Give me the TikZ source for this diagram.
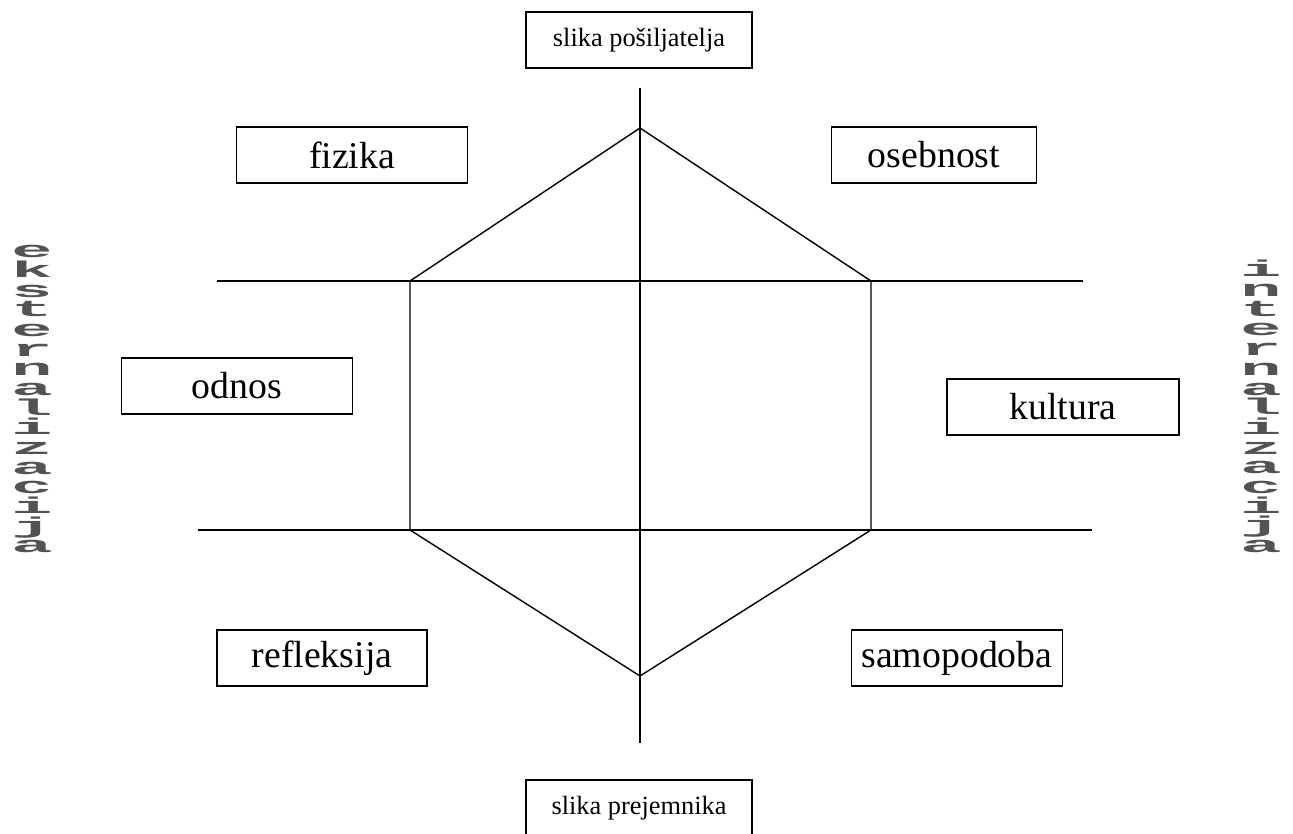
\documentclass[tikz,border=0pt]{standalone}
\usepackage{fontspec}
\setmainfont{Liberation Serif}
\newfontfamily\slabfont{Liberation Mono}
\usetikzlibrary{positioning}

\begin{document}
\lineskiplimit=-100pt
\begin{tikzpicture}[x=0.2mm,y=-0.2mm,
  box/.style={draw, line width=0.9pt, minimum height=11.2mm, inner sep=0pt, font=\fontsize{21.5}{26}\selectfont},
  smallbox/.style={box, minimum width=45.2mm, font=\fontsize{15}{18}\selectfont},
  axis/.style={line width=0.8pt},
  side/.style={anchor=north, inner sep=0pt, align=center, xscale=3, text=gray!65!black,
    font=\slabfont\bfseries\fontsize{13}{11.2}\selectfont}]
  \useasboundingbox (0,0) rectangle (1293,834);

  % hexagon corners
  \coordinate (top) at (640,128);
  \coordinate (ul) at (410,281);
  \coordinate (ur) at (871,281);
  \coordinate (ll) at (410,530);
  \coordinate (lr) at (871,530);
  \coordinate (bot) at (640,676);

  % axis ends
  \coordinate (vt) at (640,88);
  \coordinate (vb) at (640,743);
  \coordinate (hul) at (217,281);
  \coordinate (hur) at (1083,281);
  \coordinate (hll) at (198,530);
  \coordinate (hlr) at (1092,530);

  \draw[axis] (vt) -- (vb);
  \draw[axis] (hul) -- (hur);
  \draw[axis] (hll) -- (hlr);
  \draw[axis] (ul) -- (top) -- (ur) -- (lr) -- (bot) -- (ll) -- cycle;

  % labels
  \node[smallbox] (sender) at (639,40) {slika pošiljatelja};
  \node[smallbox] (receiver) at (639,808) {slika prejemnika};
  \node[box, minimum width=46.2mm] (fizika) at (352,155) {fizika};
  \node[box, minimum width=41mm] (osebnost) at (934,155) {osebnost};
  \node[box, minimum width=46.2mm] (odnos) at (237,386) {odnos};
  \node[box, minimum width=46.4mm] (kultura) at (1063,407) {kultura};
  \node[box, minimum width=42mm] (refleksija) at (322,658) {refleksija};
  \node[box, minimum width=42.2mm] (samopodoba) at (957,658) {samopodoba};

  % side words
  \node[side] (ext) at (32,245) {e\\k\\s\\t\\e\\r\\n\\a\\l\\i\\z\\a\\c\\i\\j\\a};
  \node[side] (int) at (1261,260) {i\\n\\t\\e\\r\\n\\a\\l\\i\\z\\a\\c\\i\\j\\a};
\end{tikzpicture}
\end{document}
